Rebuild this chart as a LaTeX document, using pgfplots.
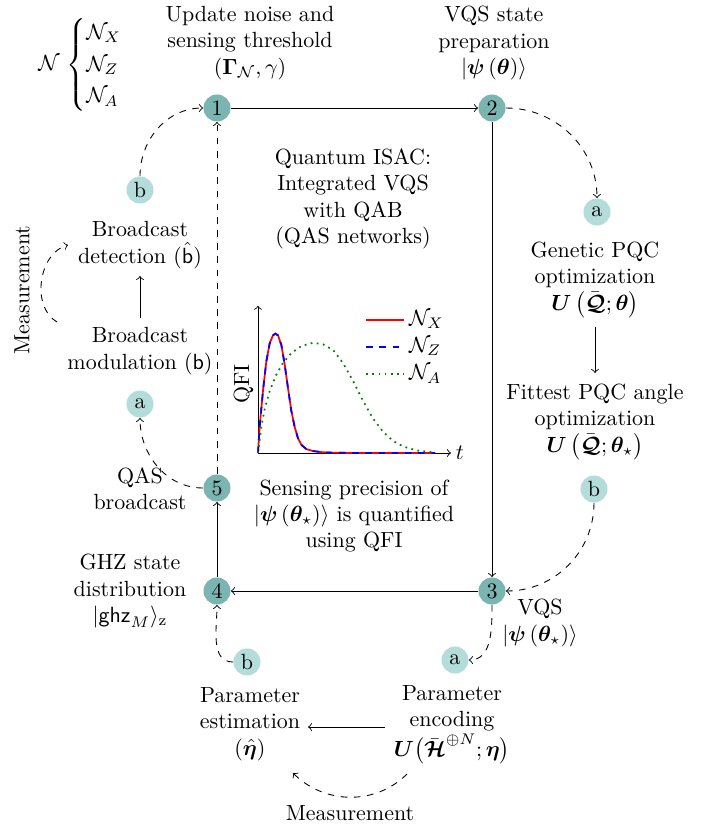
\documentclass[border=0pt]{standalone}
\usepackage{amsmath}
\usepackage{bm}
\usepackage{pgfplots}
\pgfplotsset{compat=1.18}
\definecolor{stepdark}{RGB}{122,181,178}
\definecolor{steplight}{RGB}{179,220,218}
\definecolor{qfigreen}{RGB}{0,128,0}

% QFI curves (time, QFI)
\pgfplotstableread{
t     q
0     0
0.094 26.7
0.28  63.3
0.47  93.3
0.66  111.7
0.85  120
0.98  121.7
1.13  120
1.32  110
1.51  90
1.69  66.7
1.88  43.3
2.07  26.7
2.26  15
2.45  8.3
2.73  4
3.11  2
3.67  0.7
4.4   0.2
6     0
8     0
10    0
}\qfix
\pgfplotstableread{
t     q
0     0
0.094 26.5
0.28  63
0.47  93
0.66  111.5
0.85  119.8
0.98  121.5
1.13  119.8
1.32  110
1.51  90
1.69  66.7
1.88  43.3
2.07  26.7
2.26  15
2.45  8.3
2.73  4
3.11  2
3.67  0.7
4.4   0.2
6     0
8     0
10    0
}\qfiz
\pgfplotstableread{
t     q
0     0
0.19  26.7
0.38  45
0.66  63.3
1.04  80
1.41  91.7
1.88  101.7
2.45  109
3.11  112.3
3.67  110.7
4.24  105
4.80  91.7
5.37  73.3
5.93  53.3
6.50  35
7.06  21.7
7.63  12.3
8.19  6.7
8.94  2.7
9.70  1
10    0.7
}\qfia

\begin{document}
\begin{tikzpicture}[
  mainstep/.style={circle, fill=stepdark, minimum size=12.3pt, inner sep=0pt},
  substep/.style={circle, fill=steplight, minimum size=12.3pt, inner sep=0pt},
  txt/.style={align=center},
  >=to
]
\path[use as bounding box] (0,0) rectangle (324.4pt,376.3pt);
\begin{scope}[x=0.455pt, y=0.455pt]
  % main loop of the protocol
  \node[mainstep] (n1) at (217,719) {1};
  \node[mainstep] (n2) at (492,719) {2};
  \node[mainstep] (n3) at (492,236) {3};
  \node[mainstep] (n4) at (217,236) {4};
  \node[mainstep] (n5) at (217,339) {5};
  \draw[->] (n1) -- (n2);
  \draw[->] (n2) -- (n3);
  \draw[->] (n3) -- (n4);
  \draw[->] (n4) -- (n5);
  \draw[->, dashed] (n5) -- (n1);

  % sub-steps
  \node[substep] (b1) at (140,637) {b};
  \node[substep] (a1) at (140,423) {a};
  \node[substep] (a2) at (597,615) {a};
  \node[substep] (b2) at (594,338) {b};
  \node[substep] (a3) at (455,167) {a};
  \node[substep] (b3) at (247,165) {b};

  \draw[->, dashed] (b1.north) to[out=90, in=180] (n1.west);
  \draw[->, dashed] (n2.east) to[out=0, in=90] (a2.north);
  \draw[->, dashed] (b2.south) to[out=-90, in=0] (n3.east);
  \draw[->, dashed] (n3.south) to[out=-90, in=0] (a3.east);
  \draw[->, dashed] (b3.west) to[out=180, in=-90] (n4.south);
  \draw[->, dashed] (n5.west) to[out=180, in=-90] (a1.south);

  % text blocks
  \node at (92,762) {$\mathcal{N}\,\begin{cases}\mathcal{N}_X\\ \mathcal{N}_Z\\ \mathcal{N}_A\end{cases}$};
  \node[txt] at (250,784) {Update noise and\\ sensing threshold\\ $(\mathbf{\Gamma}_{\mathcal{N}},\gamma)$};
  \node[txt] at (494,784) {VQS state\\ preparation\\ $|\bm{\psi}\left(\bm{\theta}\right)\rangle$};
  \node[txt] at (353,628) {Quantum ISAC:\\ Integrated VQS\\ with QAB\\ (QAS networks)};
  \node[txt] at (354,311) {Sensing precision of\\ $|\bm{\psi}\left(\bm{\theta}_\star\right)\rangle$ is quantified\\ using QFI};

  \node[txt] at (140,582) {Broadcast\\ detection ($\hat{\mathsf{b}}$)};
  \node[txt] at (140,476) {Broadcast\\ modulation ($\mathsf{b}$)};
  \draw[->] (140,509) -- (140,551);
  \node[rotate=90] at (22,537) {Measurement};
  \draw[->, dashed] (57,505) to[out=150, in=195] (68,582);
  \node[txt] at (140,338) {QAS\\ broadcast};
  \node[txt] at (130,236) {GHZ state\\ distribution\\ $|\mathsf{ghz}_M\rangle_{\mathrm{z}}$};

  \node[txt] at (595,547) {Genetic PQC\\ optimization\\ $\bm{U}\left(\bar{\bm{\mathcal{Q}}};\bm{\theta}\right)$};
  \draw[->] (595,500) -- (595,454);
  \node[txt] at (595,405) {Fittest PQC angle\\ optimization\\ $\bm{U}\left(\bar{\bm{\mathcal{Q}}};\bm{\theta}_\star\right)$};
  \node[txt] at (540,204) {VQS\\ $|\bm{\psi}\left(\bm{\theta}_\star\right)\rangle$};

  \node[txt] at (250,103) {Parameter\\ estimation\\ $(\hat{\bm{\eta}})$};
  \node[txt] at (452,102) {Parameter\\ encoding\\ $\bm{U}\big(\bar{\bm{\mathcal{H}}}^{\oplus N};\bm{\eta}\big)$};
  \draw[->] (385,100) -- (308,100);
  \draw[->, dashed] (407,53) to[out=225, in=-45] (293,54);
  \node at (350,14) {Measurement};

  \coordinate (qfi) at (258,374);
\end{scope}

\begin{axis}[
  at={(qfi)}, anchor=south west,
  scale only axis, width=87.8pt, height=67pt,
  xmin=0, xmax=10.9, ymin=0, ymax=150,
  enlargelimits=false, clip=false,
  axis lines=left, axis line style={->},
  xtick=\empty, ytick=\empty,
  xlabel={$t$}, ylabel={QFI},
  every axis x label/.style={at={(rel axis cs:1,0)}, anchor=west, inner sep=2pt},
  every axis y label/.style={at={(rel axis cs:-0.075,0.467)}, rotate=90, anchor=center},
  legend style={draw=none, fill=none, at={(rel axis cs:0.52,1.03)}, anchor=north west},
  legend cell align=left,
]
  \addplot[red, thick] table[x=t, y=q] {\qfix};
  \addlegendentry{$\mathcal{N}_X$}
  \addplot[blue, thick, dashed] table[x=t, y=q] {\qfiz};
  \addlegendentry{$\mathcal{N}_Z$}
  \addplot[qfigreen, thick, dotted] table[x=t, y=q] {\qfia};
  \addlegendentry{$\mathcal{N}_A$}
\end{axis}
\end{tikzpicture}
\end{document}
